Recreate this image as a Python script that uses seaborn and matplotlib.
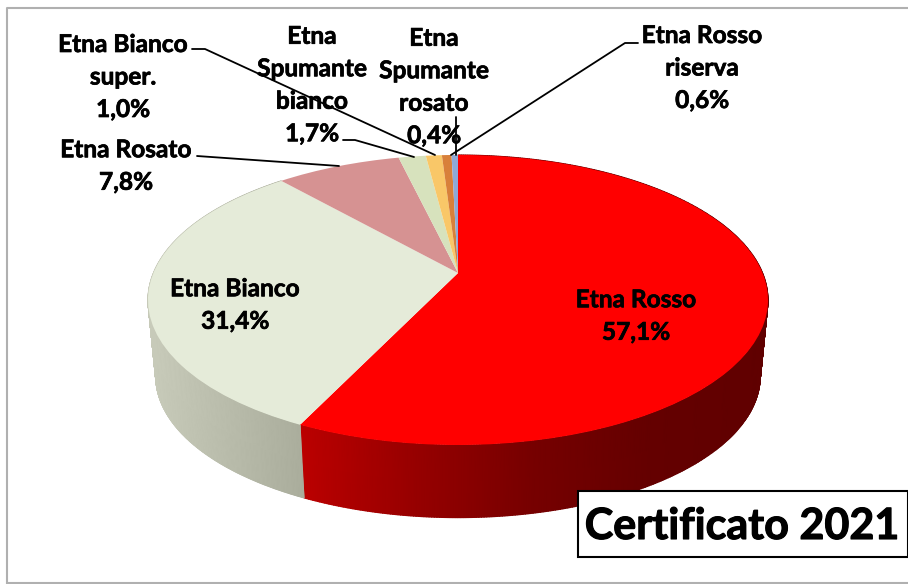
import numpy as np
import seaborn as sns
import matplotlib.pyplot as plt
import matplotlib.patheffects as pe
from matplotlib.patches import Rectangle
from matplotlib.transforms import Transform

# Data
labels = ['Etna Rosso', 'Etna Bianco', 'Etna Rosato', 'Etna\nSpumante\nbianco',
          'Etna Bianco\nsuper.', 'Etna Rosso\nriserva', 'Etna\nSpumante\nrosato']
values = [57.1, 31.4, 7.8, 1.7, 1.0, 0.6, 0.4]
colors = ['#ff0000', '#e5ebd9', '#d69292', '#d7e2bd', '#f9c768', '#d8803a', '#8fa9d6']
title = 'Certificato 2021'

# label centres and leader lines, in picture pixels
label_pos = [(636, 316), (235, 305), (126, 166), (312, 85), (123, 77), (702, 68), (434, 87)]
leaders = [None, None,
           [(197, 156), (339, 166)],
           [(343, 140), (355, 140), (414, 157)],
           [(192, 49), (205, 49), (435, 155)],
           [(638, 43), (625, 43), (451, 155)],
           [(455.5, 117), (455.5, 155)]]

# shading of the visible side wall
wall_shades = [['#bb0000', '#960000', '#760000', '#640000', '#600000'],
               ['#c9ccbb', '#aaad9c']]
wall_ranges = [(301, 768), (148, 305)]

# 3D look of the pie
CX, CY = 458, 273
A, B, K = 304.6, 140, 0.186
DEPTH_Y, DEPTH_SCALE = 77, 0.975


def project(u, v, scale=1.0, dy=0.0):
    w = 1 + K * v
    return CX + scale * A * u / w, CY + dy - scale * B * v / w


class Perspective(Transform):
    input_dims = output_dims = 2

    def transform_non_affine(self, values):
        x, y = project(values[:, 0], values[:, 1])
        return np.column_stack([x, y])


sns.set_theme(style='white')
plt.rcParams['font.family'] = ['Lato', 'DejaVu Sans']

fig = plt.figure(figsize=(9.08, 5.84), dpi=100)
ax = fig.add_axes([0, 0, 1, 1])

palette = sns.color_palette(colors)
wedges, _ = ax.pie(values, colors=palette, startangle=90, counterclock=False,
                   wedgeprops={'linewidth': 0, 'zorder': 3})
ax.set_aspect('auto')
ax.axis('off')

persp = Perspective()
for w in wedges:
    w.set_transform(persp + ax.transData)

# side wall, a smooth shaded band between the top rim and the bottom rim
edges = 90 - np.concatenate([[0], np.cumsum(values)]) / sum(values) * 360
for i, shades in enumerate(wall_shades):
    ramp = sns.blend_palette(shades, as_cmap=True)
    x0, x1 = wall_ranges[i]
    th = np.radians(np.linspace(edges[i], edges[i + 1], 500))
    u, v = np.cos(th), np.sin(th)
    xt, yt = project(u, v)
    xb, yb = project(u, v, DEPTH_SCALE, DEPTH_Y)
    X = np.vstack([xt, xb])
    Y = np.vstack([yt, yb])
    C = np.clip((X - x0) / (x1 - x0), 0, 1)
    ax.pcolormesh(X, Y, C, shading='gouraud', cmap=ramp, vmin=0, vmax=1, zorder=2)
ax.set_xlim(0, 908)
ax.set_ylim(584, 0)

# chart frame
ax.plot([7, 7, 908], [584, 8, 8], color='#b0b0b0', lw=1.5, zorder=1)
ax.plot([7, 908], [583, 583], color='#b0b0b0', lw=1.5, zorder=1)

# data labels
bold = [pe.withStroke(linewidth=0.5, foreground='black')]
for name, val, pos in zip(labels, values, label_pos):
    txt = name + '\n' + f'{val:.1f}%'.replace('.', ',')
    ax.text(pos[0], pos[1], txt, ha='center', va='center', fontsize=17.6, fontweight='bold',
            color='black', linespacing=1.5, zorder=5, path_effects=bold)

for line in leaders:
    if line is not None:
        ax.plot([p[0] for p in line], [p[1] for p in line], color='black', lw=1.3, zorder=6)

# title box
ax.add_patch(Rectangle((578, 491), 330, 66, facecolor='white', edgecolor='black', lw=1.5,
                       zorder=7, clip_on=False))
ax.text(742, 526, title, ha='center', va='center', fontsize=31, fontweight='bold',
        color='black', zorder=8, path_effects=[pe.withStroke(linewidth=0.8, foreground='black')])

plt.savefig('out.png', dpi=100)
